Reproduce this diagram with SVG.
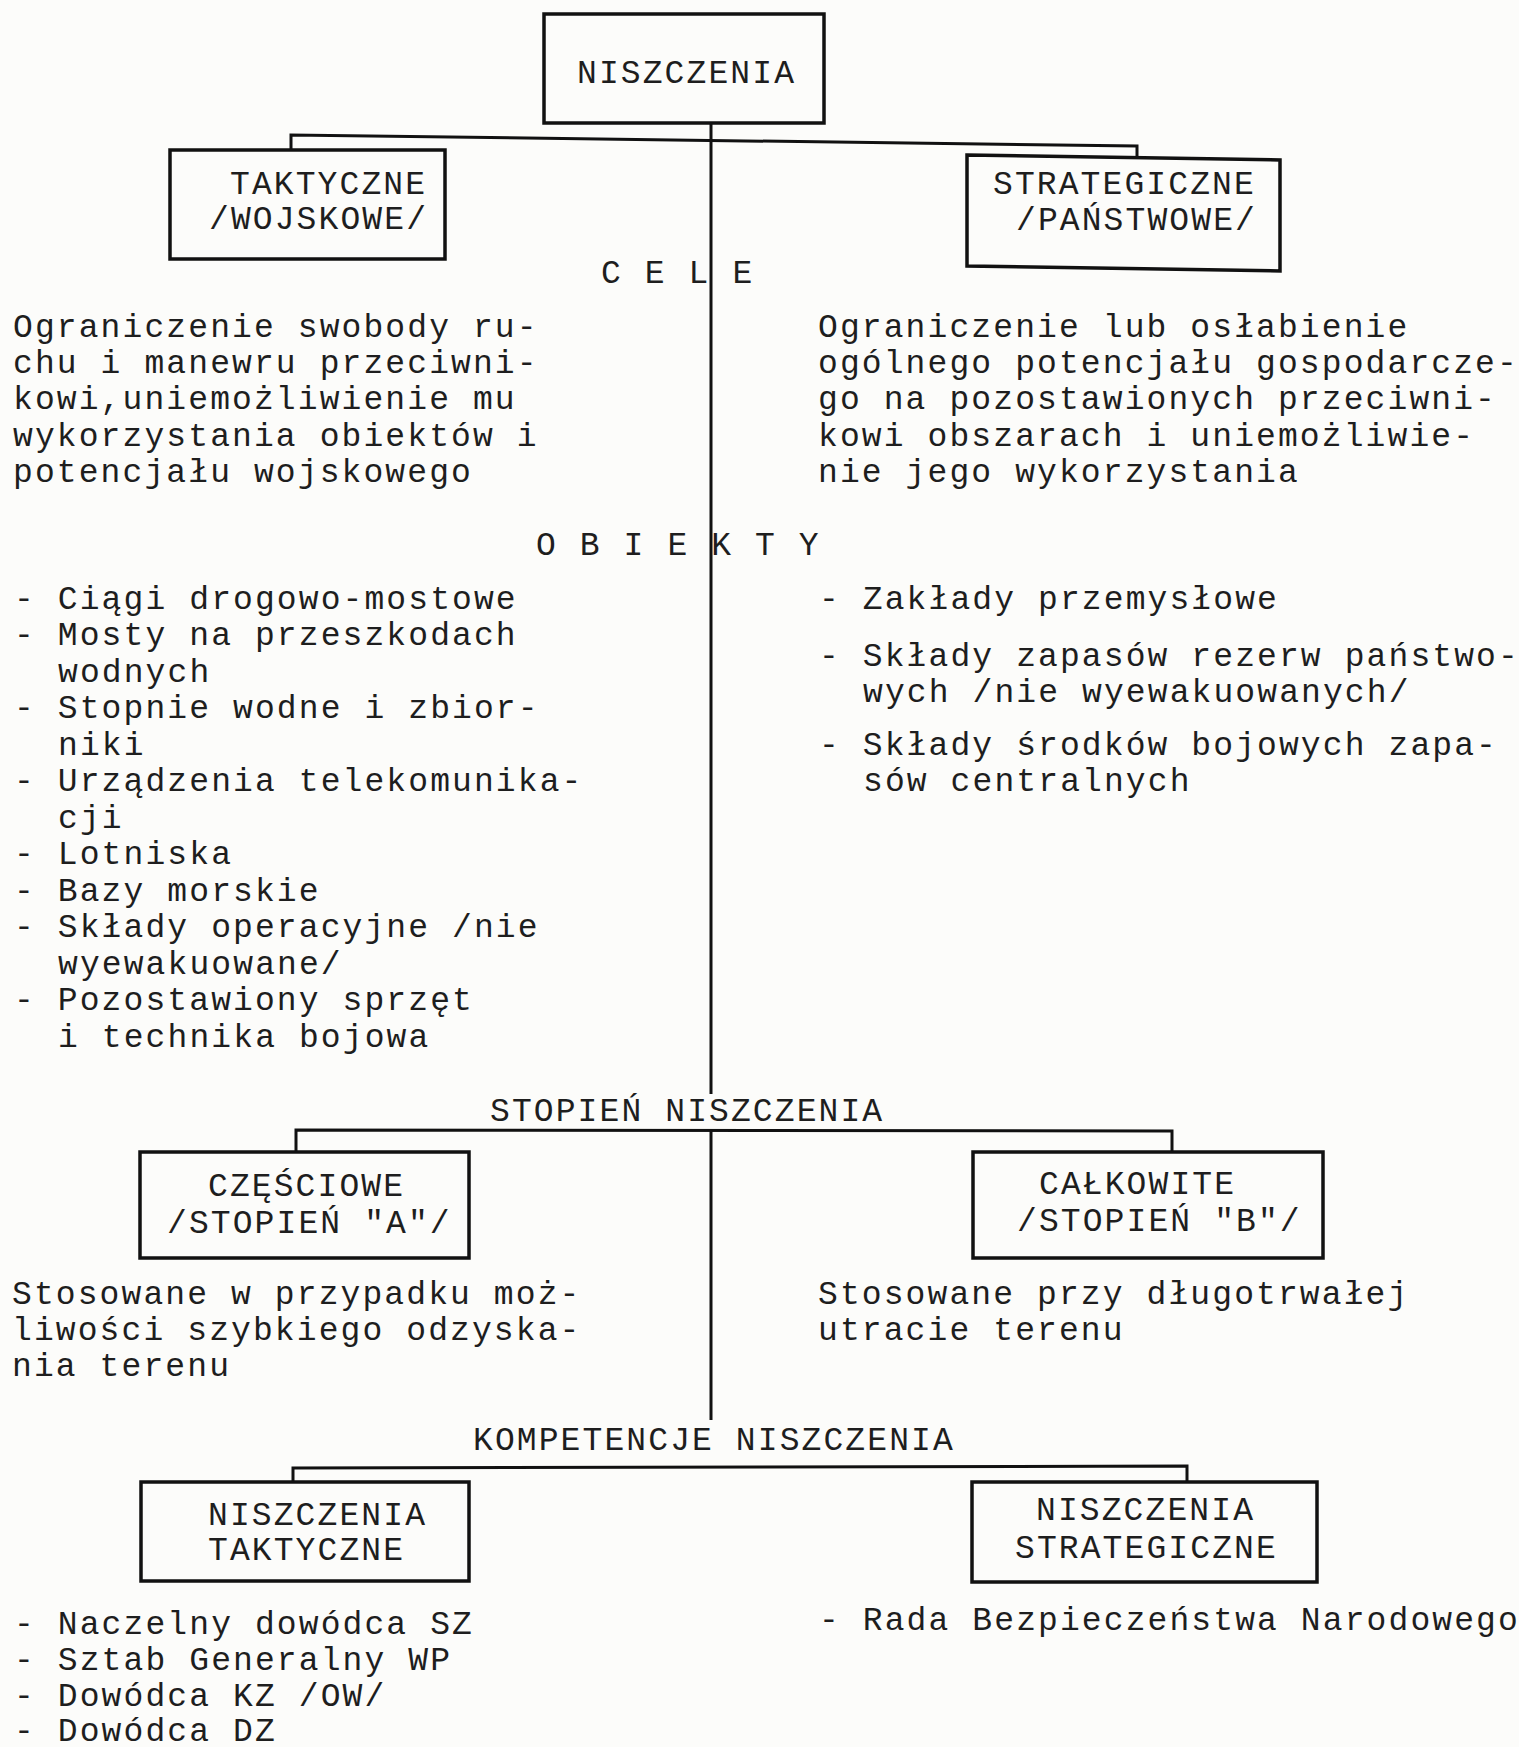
<svg xmlns="http://www.w3.org/2000/svg" width="1519" height="1747" viewBox="0 0 1519 1747">
<style>
.t{font-family:"Liberation Mono","DejaVu Sans Mono",monospace;font-size:33px;letter-spacing:2.1px;fill:#1e1e1e;}
.box{fill:none;stroke:#111;stroke-width:3.5;}
.ln{fill:none;stroke:#111;stroke-width:3;}
</style>
<rect width="1519" height="1747" fill="#fcfcfa"/>
<g id="connectors">
<polyline class="ln" points="291,150 291,135 1137,146 1137,156"/>
<line class="ln" x1="711" y1="123" x2="711" y2="1094"/>
<polyline class="ln" points="296,1152 296,1130 1172,1131 1172,1152"/>
<line class="ln" x1="711" y1="1130" x2="711" y2="1420"/>
<polyline class="ln" points="293,1482 293,1468 1187,1466 1187,1482"/>
</g>
<g id="n-niszczenia">
<rect class="box" x="544" y="14" width="280" height="109"/>
<text class="t" x="577" y="83">NISZCZENIA</text>
</g>
<g id="n-taktyczne">
<rect class="box" x="170" y="150" width="275" height="109"/>
<text class="t" x="230" y="194">TAKTYCZNE</text>
<text class="t" x="209" y="229">/WOJSKOWE/</text>
</g>
<g id="n-strategiczne">
<polygon class="box" points="967,155 1280,160 1280,271 967,266"/>
<text class="t" x="993" y="194">STRATEGICZNE</text>
<text class="t" x="1016" y="230">/PAŃSTWOWE/</text>
</g>
<g id="l-cele">
<text class="t" x="601" y="283">C E L E</text>
</g>
<g id="cele-left">
<text class="t" x="13" y="337">Ograniczenie swobody ru-</text>
<text class="t" x="13" y="373">chu i manewru przeciwni-</text>
<text class="t" x="13" y="409">kowi,uniemożliwienie mu</text>
<text class="t" x="13" y="446">wykorzystania obiektów i</text>
<text class="t" x="13" y="482">potencjału wojskowego</text>
</g>
<g id="cele-right">
<text class="t" x="818" y="337">Ograniczenie lub osłabienie</text>
<text class="t" x="818" y="373">ogólnego potencjału gospodarcze-</text>
<text class="t" x="818" y="409">go na pozostawionych przeciwni-</text>
<text class="t" x="818" y="446">kowi obszarach i uniemożliwie-</text>
<text class="t" x="818" y="482">nie jego wykorzystania</text>
</g>
<g id="l-obiekty">
<text class="t" x="536" y="555">O B I E K T Y</text>
</g>
<g id="obiekty-left">
<text class="t" x="14" y="609">- Ciągi drogowo-mostowe</text>
<text class="t" x="14" y="645">- Mosty na przeszkodach</text>
<text class="t" x="58" y="682">wodnych</text>
<text class="t" x="14" y="718">- Stopnie wodne i zbior-</text>
<text class="t" x="58" y="755">niki</text>
<text class="t" x="14" y="791">- Urządzenia telekomunika-</text>
<text class="t" x="58" y="828">cji</text>
<text class="t" x="14" y="864">- Lotniska</text>
<text class="t" x="14" y="901">- Bazy morskie</text>
<text class="t" x="14" y="937">- Składy operacyjne /nie</text>
<text class="t" x="58" y="974">wyewakuowane/</text>
<text class="t" x="14" y="1010">- Pozostawiony sprzęt</text>
<text class="t" x="58" y="1047">i technika bojowa</text>
</g>
<g id="obiekty-right">
<text class="t" x="819" y="609">- Zakłady przemysłowe</text>
<text class="t" x="819" y="666">- Składy zapasów rezerw państwo-</text>
<text class="t" x="863" y="702">wych /nie wyewakuowanych/</text>
<text class="t" x="819" y="755">- Składy środków bojowych zapa-</text>
<text class="t" x="863" y="791">sów centralnych</text>
</g>
<g id="l-stopien">
<text class="t" x="490" y="1121">STOPIEŃ NISZCZENIA</text>
</g>
<g id="n-czesciowe">
<rect class="box" x="140" y="1152" width="329" height="106"/>
<text class="t" x="208" y="1196">CZĘŚCIOWE</text>
<text class="t" x="167" y="1233">/STOPIEŃ "A"/</text>
</g>
<g id="n-calkowite">
<rect class="box" x="973" y="1152" width="350" height="106"/>
<text class="t" x="1039" y="1194">CAŁKOWITE</text>
<text class="t" x="1017" y="1231">/STOPIEŃ "B"/</text>
</g>
<g id="stopien-left">
<text class="t" x="12" y="1304">Stosowane w przypadku moż-</text>
<text class="t" x="12" y="1340">liwości szybkiego odzyska-</text>
<text class="t" x="12" y="1376">nia terenu</text>
</g>
<g id="stopien-right">
<text class="t" x="818" y="1304">Stosowane przy długotrwałej</text>
<text class="t" x="818" y="1340">utracie terenu</text>
</g>
<g id="l-kompetencje">
<text class="t" x="473" y="1450">KOMPETENCJE NISZCZENIA</text>
</g>
<g id="n-nisz-takt">
<rect class="box" x="141" y="1482" width="328" height="99"/>
<text class="t" x="208" y="1525">NISZCZENIA</text>
<text class="t" x="208" y="1560">TAKTYCZNE</text>
</g>
<g id="n-nisz-strat">
<rect class="box" x="972" y="1482" width="345" height="100"/>
<text class="t" x="1036" y="1520">NISZCZENIA</text>
<text class="t" x="1015" y="1558">STRATEGICZNE</text>
</g>
<g id="komp-left">
<text class="t" x="14" y="1634">- Naczelny dowódca SZ</text>
<text class="t" x="14" y="1670">- Sztab Generalny WP</text>
<text class="t" x="14" y="1706">- Dowódca KZ /OW/</text>
<text class="t" x="14" y="1741">- Dowódca DZ</text>
</g>
<g id="komp-right">
<text class="t" x="819" y="1630">- Rada Bezpieczeństwa Narodowego</text>
</g>
</svg>
